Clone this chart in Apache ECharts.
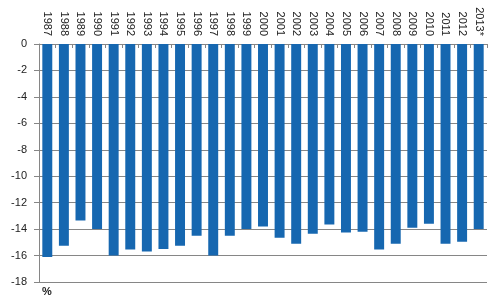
<!DOCTYPE html>
<html>
<head>
<meta charset="utf-8">
<script src="https://cdn.jsdelivr.net/npm/echarts@6/dist/echarts.min.js"></script>
<style>html,body{margin:0;padding:0;background:#fff}#c{width:491px;height:302px}</style>
</head>
<body>
<div id="c"></div>
<script>
var categories = ['1987','1988','1989','1990','1991','1992','1993','1994','1995','1996','1997','1998','1999','2000','2001','2002','2003','2004','2005','2006','2007','2008','2009','2010','2011','2012','2013*'];
var values = [-16.1,-15.25,-13.35,-14.0,-16.0,-15.55,-15.7,-15.5,-15.25,-14.5,-16.0,-14.5,-14.0,-13.8,-14.65,-15.1,-14.35,-13.65,-14.25,-14.2,-15.55,-15.1,-13.9,-13.6,-15.1,-14.95,-14.0];
var yTicks = {min:-18, max:0, interval:2};
var unitLabel = '%';

var chart = echarts.init(document.getElementById('c'), null, {renderer:'canvas'});
chart.setOption({
  animation:false,
  backgroundColor:'#fff',
  textStyle:{fontFamily:'Liberation Sans, Arial, sans-serif'},
  grid:{left:39, right:4, top:44, bottom:20, containLabel:false},
  title:{text:unitLabel, left:42, top:286, padding:0, textStyle:{fontSize:11, fontWeight:'bold', color:'#222', fontFamily:'Liberation Sans, Arial, sans-serif'}},
  xAxis:{
    type:'category', data:categories, position:'top',
    axisLine:{onZero:false, lineStyle:{color:'#868686', width:1}},
    axisTick:{show:true, inside:true, length:4, lineStyle:{color:'#868686'}},
    axisLabel:{rotate:90, margin:8, fontSize:11, color:'#222', interval:0},
    splitLine:{show:false}
  },
  yAxis:{
    type:'value', min:yTicks.min, max:yTicks.max, interval:yTicks.interval,
    axisLine:{show:true, lineStyle:{color:'#868686'}},
    axisTick:{show:true, length:5, lineStyle:{color:'#868686'}},
    axisLabel:{fontSize:11, color:'#222', margin:12},
    splitLine:{show:true, lineStyle:{color:'#868686', width:1}}
  },
  series:[{
    type:'bar', data:values, barCategoryGap:'40%',
    itemStyle:{color:'#1667B0'}
  }]
});
</script>
</body>
</html>
